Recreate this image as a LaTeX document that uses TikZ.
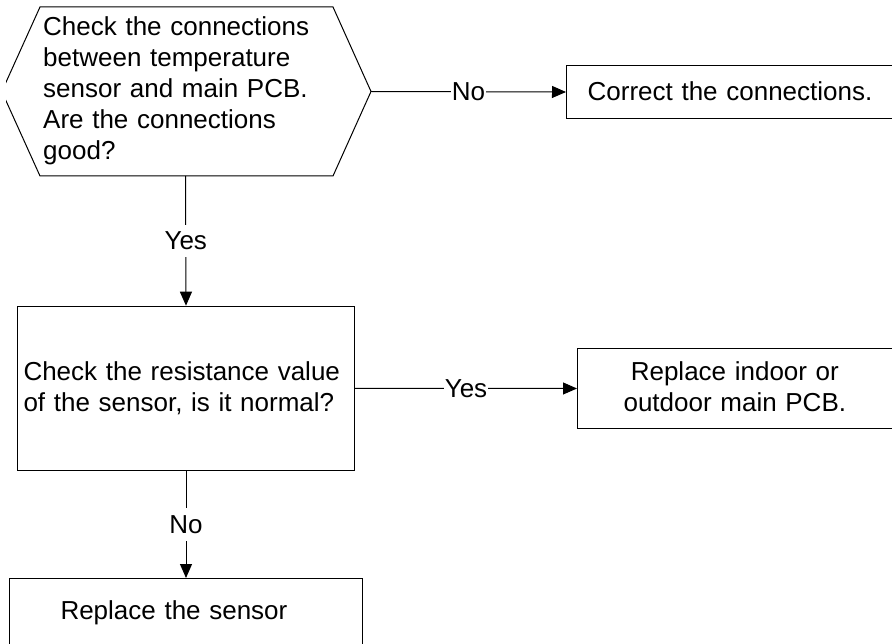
\documentclass[tikz,border=0pt]{standalone}
\usepackage{fontspec}
\setmainfont{Liberation Sans}
\usetikzlibrary{arrows.meta}
\tikzset{
  boxline/.style={draw=black, line width=1pt},
  txt/.style={font=\fontsize{26}{31}\selectfont, inner sep=0pt},
  conn/.style={draw=black, line width=1pt, -{Triangle[length=14pt,width=12pt]}},
  lbl/.style={fill=white, font=\fontsize{26}{31}\selectfont, inner xsep=1pt, inner ysep=7pt},
}
\begin{document}
\begin{tikzpicture}[x=1pt,y=-1pt]
\useasboundingbox (0,0) rectangle (892,644);
% decision hexagon (its left tip is cut off by the picture edge)
\coordinate (hW) at (1.8,91.5);
\coordinate (hNW) at (40,7);
\coordinate (hNE) at (333,7);
\coordinate (q1e) at (371,91.5);
\coordinate (hSE) at (333,176);
\coordinate (hSW) at (40,176);
\coordinate (q1s) at (185.5,176);
\begin{scope}
\clip (6,-5) rectangle (900,650);
\draw[boxline] (hW) -- (hNW) -- (hNE) -- (q1e) -- (hSE) -- (hSW) -- cycle;
\end{scope}
\node[txt, anchor=base west, text width=300pt, align=left] (q1) at (43,36)
  {Check the connections\\between temperature\\sensor and main PCB.\\Are the connections\\good?};
% boxes
\node[boxline, txt, anchor=north west, text width=327pt, align=center,
      text height=35pt, text depth=18pt] (c1) at (566,65) {Correct the connections.};
\node[boxline, txt, anchor=north west, text width=325pt, inner xsep=6pt, align=left,
      text height=74.3pt, text depth=90pt] (b2) at (17,305.7)
  {Check the resistance value\\of the sensor, is it normal?};
\node[boxline, txt, anchor=north west, text width=314.7pt, align=center,
      text height=32pt, text depth=48pt] (b3) at (577,348)
  {Replace indoor or\\outdoor main PCB.};
\node[boxline, txt, anchor=north west, text width=251pt, inner xsep=51pt, align=left,
      text height=41pt, text depth=40pt] (b4) at (9,578) {Replace the sensor};
% connectors
\draw[conn] (q1e) -- node[lbl] {No} (c1.west);
\draw[conn] (q1s) -- node[lbl] {Yes} (b2.north);
\draw[conn] (b2.east) -- node[lbl] {Yes} (b3.west);
\draw[conn] (b2.south) -- node[lbl] {No} (b4.north);
\end{tikzpicture}
\end{document}
